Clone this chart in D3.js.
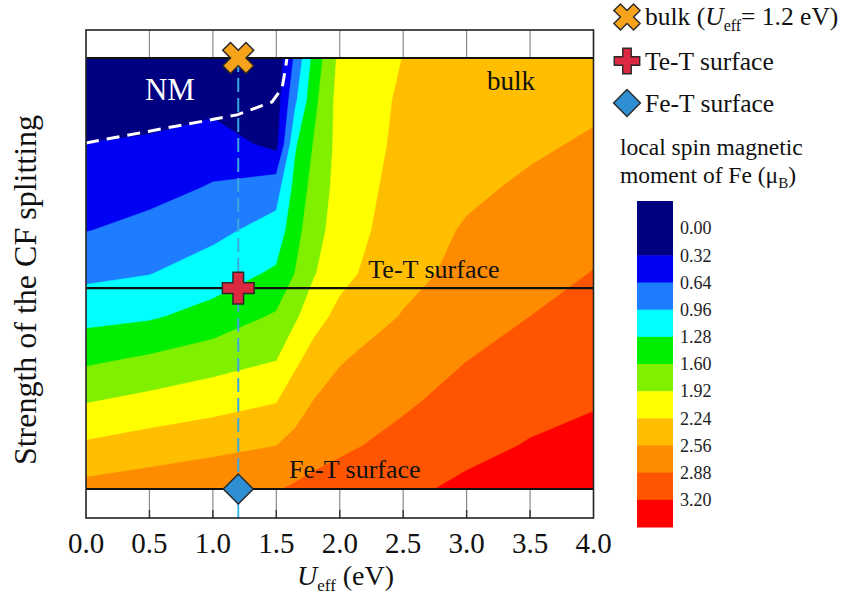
<!DOCTYPE html>
<html>
<head>
<meta charset="utf-8">
<script src="https://cdn.jsdelivr.net/npm/d3@7"></script>
<style>
  body { margin: 0; background: #fff; }
  svg { display: block; font-family: "Liberation Serif", "Times New Roman", serif; }
</style>
</head>
<body>
<svg id="chart" width="845" height="598"></svg>
<script>
// --- data ---
// grid columns: U_eff (eV)
const uEff = [0, 0.5, 1.0, 1.5, 1.65, 1.8, 2.0, 2.5, 3.0, 3.5, 4.0];
// grid rows: relative CF strength (1 = bulk, top ... 0 = Fe-T surface, bottom)
const cfStrength = [1.0, 0.9, 0.8, 0.7, 0.6, 0.5, 0.4, 0.3, 0.2, 0.1, 0.0];
// local spin moment of Fe (mu_B), one row per cfStrength value
const moment = [
  [0.00, 0.00, 0.02, 0.10, 0.70, 1.40, 2.00, 2.245, 2.30, 2.35, 2.40],
  [0.00, 0.15, 0.20, 0.15, 0.91, 1.52, 2.05, 2.28, 2.37, 2.42, 2.50],
  [0.33, 0.37, 0.50, 0.22, 1.24, 1.63, 2.03, 2.31, 2.42, 2.51, 2.60],
  [0.476, 0.54, 0.66, 0.82, 1.38, 1.72, 2.04, 2.36, 2.50, 2.61, 2.69],
  [0.63, 0.73, 0.88, 1.08, 1.49, 1.80, 2.07, 2.41, 2.59, 2.70, 2.79],
  [0.885, 0.95, 1.11, 1.33, 1.61, 1.90, 2.15, 2.46, 2.65, 2.77, 2.89],
  [1.18, 1.24, 1.40, 1.64, 1.87, 2.13, 2.32, 2.58, 2.76, 2.88, 2.99],
  [1.54, 1.65, 1.78, 1.91, 2.18, 2.36, 2.54, 2.71, 2.875, 2.99, 3.09],
  [1.915, 2.02, 2.12, 2.235, 2.42, 2.58, 2.66, 2.84, 2.99, 3.11, 3.18],
  [2.29, 2.39, 2.47, 2.56, 2.66, 2.77, 2.83, 2.97, 3.12, 3.22, 3.28],
  [2.66, 2.73, 2.81, 2.86, 2.92, 2.96, 3.01, 3.14, 3.26, 3.32, 3.36]
];

const levels = [0.32, 0.64, 0.96, 1.28, 1.60, 1.92, 2.24, 2.56, 2.88, 3.20];
const levelColors = ["#000080", "#0000f5", "#1e7dff", "#00ffff", "#00ee00", "#80f000",
                     "#ffff00", "#ffbe00", "#ff8c00", "#ff5500", "#ff0000"];
const colorbarTicks = [0.00, 0.32, 0.64, 0.96, 1.28, 1.60, 1.92, 2.24, 2.56, 2.88, 3.20];

const xTicks = [0, 0.5, 1.0, 1.5, 2.0, 2.5, 3.0, 3.5, 4.0];

// the three systems: CF strength of each, all at U_eff = 1.2 eV
const surfaceNames = ["bulk", "Te-T surface", "Fe-T surface"];
const surfaceCF = [1.0, 0.466, 0.0];
const markerU = 1.2;

// dashed NM boundary
const nmU = [0, 1.19, 1.466, 1.545, 1.568, 1.584];
const nmCF = [0.803, 0.868, 0.898, 0.930, 0.968, 1.0];

// --- layout ---
const svg = d3.select("#chart");
const left = 86, right = 593.5, frameTop = 30, frameBottom = 518;
const x = d3.scaleLinear().domain([0, 4]).range([left, right]);
const y = d3.scaleLinear().domain([0, 1]).range([489, 58]);

// grid index -> data coordinates (piecewise, columns are not evenly spaced)
const gx = d3.scaleLinear().domain(uEff.map((d, i) => i + 0.5)).range(uEff);
const gy = d3.scaleLinear().domain(cfStrength.map((d, j) => j + 0.5)).range(cfStrength);

const nx = uEff.length, ny = cfStrength.length;
const flat = moment.flat();
const bands = d3.contours().size([nx, ny]).thresholds(levels)(flat);

const toScreen = d3.geoTransform({
  point: function(px, py) { this.stream.point(x(gx(px)), y(gy(py))); }
});
const path = d3.geoPath(toScreen);

svg.append("defs").append("clipPath").attr("id", "plot-clip")
  .append("rect")
  .attr("x", left).attr("y", y(1))
  .attr("width", right - left).attr("height", y(0) - y(1));

const plot = svg.append("g").attr("clip-path", "url(#plot-clip)");

// lowest band as background
plot.append("rect")
  .attr("x", left).attr("y", y(1))
  .attr("width", right - left).attr("height", y(0) - y(1))
  .attr("fill", levelColors[0]);

plot.selectAll("path.band")
  .data(bands)
  .enter().append("path")
  .attr("class", "band")
  .attr("d", path)
  .attr("fill", (d, i) => levelColors[i + 1])
  .attr("stroke", (d, i) => levelColors[i + 1])
  .attr("stroke-width", 0.6);

// NM dashed boundary
const nmLine = d3.line().x(d => x(d[0])).y(d => y(d[1]));
plot.append("path")
  .attr("d", nmLine(nmU.map((u, i) => [u, nmCF[i]])))
  .attr("fill", "none")
  .attr("stroke", "#fff")
  .attr("stroke-width", 3)
  .attr("stroke-dasharray", "13,8");

// tick lines in the white strips above and below the map
const tickG = svg.append("g");
xTicks.slice(1, -1).forEach(t => {
  tickG.append("line")
    .attr("x1", x(t)).attr("x2", x(t))
    .attr("y1", frameTop).attr("y2", y(1))
    .attr("stroke", "#8a8a8a").attr("stroke-width", 1.2);
  tickG.append("line")
    .attr("x1", x(t)).attr("x2", x(t))
    .attr("y1", y(0)).attr("y2", frameBottom)
    .attr("stroke", "#8a8a8a").attr("stroke-width", 1.2);
  tickG.append("line")
    .attr("x1", x(t)).attr("x2", x(t))
    .attr("y1", frameBottom - 8).attr("y2", frameBottom)
    .attr("stroke", "#333").attr("stroke-width", 1.4);
});

// vertical line at U_eff = 1.2 eV
svg.append("line")
  .attr("x1", x(markerU)).attr("x2", x(markerU))
  .attr("y1", y(1)).attr("y2", y(0))
  .attr("stroke", "#3aa8de").attr("stroke-width", 2)
  .attr("stroke-dasharray", "14,6");
svg.append("line")
  .attr("x1", x(markerU)).attr("x2", x(markerU))
  .attr("y1", y(0)).attr("y2", frameBottom)
  .attr("stroke", "#3cb4ec").attr("stroke-width", 2);

// horizontal lines for bulk / Te-T / Fe-T
svg.selectAll("line.surface")
  .data(surfaceCF)
  .enter().append("line")
  .attr("class", "surface")
  .attr("x1", left).attr("x2", right)
  .attr("y1", d => y(d)).attr("y2", d => y(d))
  .attr("stroke", "#111").attr("stroke-width", 2.2);

// frame
svg.append("rect")
  .attr("x", left).attr("y", frameTop)
  .attr("width", right - left).attr("height", frameBottom - frameTop)
  .attr("fill", "none").attr("stroke", "#222").attr("stroke-width", 1.6);

// labels inside the map
svg.append("text").attr("x", x(0.465)).attr("y", 100)
  .attr("font-size", 31).attr("fill", "#fff").text("NM");
svg.append("text").attr("x", x(3.16)).attr("y", 90)
  .attr("font-size", 27).attr("fill", "#111").text(surfaceNames[0]);
svg.append("text").attr("x", x(2.225)).attr("y", y(surfaceCF[1]) - 10)
  .attr("font-size", 26).attr("fill", "#111").text(surfaceNames[1]);
svg.append("text").attr("x", x(1.6)).attr("y", y(surfaceCF[2]) - 11)
  .attr("font-size", 26).attr("fill", "#111").text(surfaceNames[2]);

// markers
const stroke = "#2a2a2a";
function xMark(size) { return d3.symbol(d3.symbolCross, size)(); }
function diamond(size) { return d3.symbol(d3.symbolSquare, size)(); }
const markerStyle = [
  { d: xMark(600), rot: 45, fill: "#f7a21b" },
  { d: xMark(560), rot: 0, fill: "#dc2840" },
  { d: diamond(450), rot: 45, fill: "#2e8fd3" }
];
svg.selectAll("path.marker")
  .data(surfaceCF)
  .enter().append("path")
  .attr("class", "marker")
  .attr("d", (d, i) => markerStyle[i].d)
  .attr("transform", (d, i) => `translate(${x(markerU)},${y(d)}) rotate(${markerStyle[i].rot})`)
  .attr("fill", (d, i) => markerStyle[i].fill)
  .attr("stroke", stroke).attr("stroke-width", 1.5);

// x axis labels
svg.selectAll("text.xtick")
  .data(xTicks)
  .enter().append("text")
  .attr("class", "xtick")
  .attr("x", d => x(d)).attr("y", 553)
  .attr("text-anchor", "middle")
  .attr("font-size", 29).attr("fill", "#111")
  .text(d => d3.format(".1f")(d));

const xTitle = svg.append("text").attr("x", 297).attr("y", 585)
  .attr("font-size", 28).attr("fill", "#111");
xTitle.append("tspan").attr("font-style", "italic").text("U");
xTitle.append("tspan").attr("font-size", 17).attr("dy", 6).text("eff");
xTitle.append("tspan").attr("dy", -6).text(" (eV)");

svg.append("text")
  .attr("transform", "translate(36,290) rotate(-90)")
  .attr("text-anchor", "middle")
  .attr("font-size", 32).attr("fill", "#111")
  .text("Strength of the CF splitting");

// legend
const legendY = [17, 61, 103];
const legendStyle = [
  { d: xMark(430), rot: 45, fill: "#f7a21b" },
  { d: xMark(360), rot: 0, fill: "#dc2840" },
  { d: diamond(360), rot: 45, fill: "#2e8fd3" }
];
legendY.forEach((ly, i) => {
  svg.append("path")
    .attr("d", legendStyle[i].d)
    .attr("transform", `translate(627,${ly}) rotate(${legendStyle[i].rot})`)
    .attr("fill", legendStyle[i].fill)
    .attr("stroke", stroke).attr("stroke-width", 1.4);
});
const l0 = svg.append("text").attr("x", 645).attr("y", 25)
  .attr("font-size", 25.5).attr("fill", "#111");
l0.append("tspan").text("bulk (");
l0.append("tspan").attr("font-style", "italic").text("U");
l0.append("tspan").attr("font-size", 16).attr("dy", 6).text("eff");
l0.append("tspan").attr("dy", -6).text("= 1.2 eV)");
svg.append("text").attr("x", 645).attr("y", 70)
  .attr("font-size", 25.5).attr("fill", "#111").text(surfaceNames[1]);
svg.append("text").attr("x", 645).attr("y", 112)
  .attr("font-size", 25.5).attr("fill", "#111").text(surfaceNames[2]);

// colour bar
svg.append("text").attr("x", 620).attr("y", 155)
  .attr("font-size", 23.5).attr("fill", "#111").text("local spin magnetic");
const cbTitle = svg.append("text").attr("x", 620).attr("y", 183)
  .attr("font-size", 23.5).attr("fill", "#111");
cbTitle.append("tspan").text("moment of Fe (\u03bc");
cbTitle.append("tspan").attr("font-size", 15).attr("dy", 5).text("B");
cbTitle.append("tspan").attr("dy", -5).text(")");

const cb = d3.scaleLinear().domain([-0.32, 3.52]).range([201, 527]);
const bandEdges = [-0.32, ...levels, 3.52];
svg.selectAll("rect.cb")
  .data(levelColors)
  .enter().append("rect")
  .attr("class", "cb")
  .attr("x", 637).attr("width", 36)
  .attr("y", (d, i) => cb(bandEdges[i]))
  .attr("height", (d, i) => cb(bandEdges[i + 1]) - cb(bandEdges[i]) + 0.5)
  .attr("fill", d => d);

svg.selectAll("text.cbtick")
  .data(colorbarTicks)
  .enter().append("text")
  .attr("class", "cbtick")
  .attr("x", 680).attr("y", d => cb(d))
  .attr("dy", "0.35em")
  .attr("font-size", 18).attr("fill", "#222")
  .text(d => d3.format(".2f")(d));
</script>
</body>
</html>
